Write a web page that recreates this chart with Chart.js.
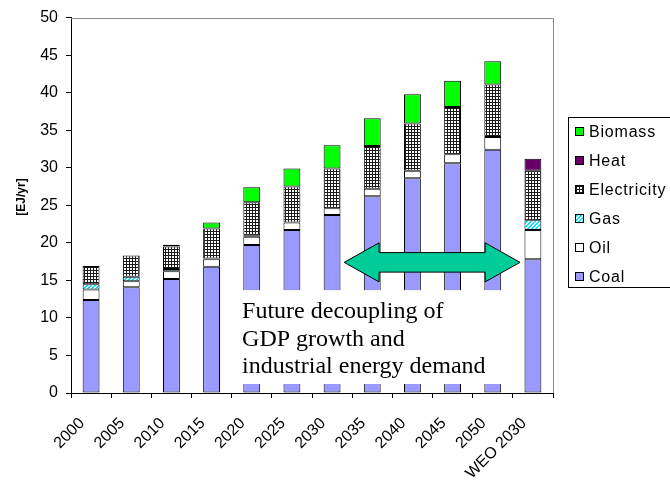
<!DOCTYPE html>
<html>
<head>
<meta charset="utf-8">
<script src="https://cdn.jsdelivr.net/npm/chart.js@4/dist/chart.umd.min.js"></script>
<style>
  html, body { margin: 0; padding: 0; background: #fff; }
  #wrap { width: 670px; height: 489px; }
</style>
</head>
<body>
<div id="wrap"><canvas id="c" width="670" height="489"></canvas></div>
<script>
// Industrial final energy demand by carrier, EJ per year
const categories = ['2000', '2005', '2010', '2015', '2020', '2025', '2030', '2035', '2040', '2045', '2050', 'WEO 2030'];
const coal        = [12.4, 14.1, 15.2, 16.8, 19.7, 21.7, 23.7, 26.2, 28.6, 30.6, 32.4, 17.8];
const oil         = [1.4, 0.8, 1.0, 1.0, 1.1, 1.0, 0.9, 1.0, 1.0, 1.2, 1.7, 3.9];
const gas         = [0.7, 0.6, 0.3, 0.1, 0.2, 0, 0, 0, 0, 0, 0, 1.3];
const electricity = [2.4, 2.8, 3.0, 4.0, 4.4, 4.8, 5.3, 5.7, 6.3, 6.3, 7.0, 6.6];
const heat        = [0, 0, 0.25, 0, 0, 0, 0, 0, 0, 0, 0, 1.6];
const biomass     = [0, 0, 0, 0.8, 2.0, 2.4, 3.1, 3.7, 3.9, 3.5, 3.1, 0];

const yTickMin = 0, yTickMax = 50, yTickStep = 5;
const yTitle = '[EJ/yr]';
const noteLines = ['Future decoupling of', 'GDP growth and', 'industrial energy demand'];

const canvas = document.getElementById('c');
const mainCtx = canvas.getContext('2d');

// fine dark grid for electricity
function makeGridPattern() {
  const t = document.createElement('canvas');
  t.width = 3; t.height = 3;
  const g = t.getContext('2d');
  g.fillStyle = '#ffffff'; g.fillRect(0, 0, 3, 3);
  g.fillStyle = '#1a1a1a';
  g.fillRect(0, 0, 3, 1);
  g.fillRect(0, 0, 1, 3);
  return mainCtx.createPattern(t, 'repeat');
}
// cyan diagonal hatch for gas
function makeHatchPattern() {
  const t = document.createElement('canvas');
  t.width = 4; t.height = 4;
  const g = t.getContext('2d');
  g.fillStyle = '#ffffff'; g.fillRect(0, 0, 4, 4);
  g.fillStyle = '#00e5ff';
  for (let i = 0; i < 4; i++) {
    g.fillRect(i, 3 - i, 1, 1);
    g.fillRect((i + 1) % 4, 3 - i, 1, 1);
  }
  return mainCtx.createPattern(t, 'repeat');
}

const nz = arr => arr.map(v => (v === 0 ? null : v));

function series(label, data, fill) {
  return {
    label, data: nz(data), backgroundColor: fill,
    borderColor: '#000', borderWidth: 1, borderSkipped: false,
    categoryPercentage: 1.0, barPercentage: 0.42
  };
}

const datasets = [
  series('Coal', coal, '#9999ff'),
  series('Oil', oil, '#ffffff'),
  series('Gas', gas, makeHatchPattern()),
  series('Electricity', electricity, makeGridPattern()),
  series('Heat', heat, '#660066'),
  series('Biomass', biomass, '#00ff00')
];

const FONT = '"Liberation Sans", Arial, sans-serif';

// grey frame on the top and right of the plot area
const frame = {
  id: 'frame',
  beforeDatasetsDraw(chart) {
    const { ctx, chartArea: a } = chart;
    ctx.save();
    ctx.strokeStyle = '#8c8c8c';
    ctx.lineWidth = 1;
    ctx.beginPath();
    ctx.moveTo(a.left, Math.round(a.top) + 0.5);
    ctx.lineTo(Math.round(a.right) + 0.5, Math.round(a.top) + 0.5);
    ctx.lineTo(Math.round(a.right) + 0.5, a.bottom);
    ctx.stroke();
    ctx.restore();
  }
};

// arrow and text note drawn over the bars
const note = {
  id: 'note',
  afterDatasetsDraw(chart) {
    const { ctx } = chart;
    const xs = chart.scales.x, ys = chart.scales.y;
    const px = i => xs.getPixelForValue(0) + i * (xs.getPixelForValue(1) - xs.getPixelForValue(0));
    const py = v => ys.getPixelForValue(v);
    ctx.save();
    // white text panel
    const bx0 = px(3.71), bx1 = px(10.6), by0 = py(13.7), by1 = py(1.2);
    ctx.fillStyle = '#ffffff';
    ctx.fillRect(bx0, by0, bx1 - bx0, by1 - by0);
    ctx.fillStyle = '#000';
    ctx.font = '24px "Liberation Serif", "Times New Roman", serif';
    ctx.textAlign = 'left';
    ctx.textBaseline = 'alphabetic';
    const base = [10.0, 6.3, 2.6];
    noteLines.forEach((t, k) => ctx.fillText(t, bx0 + 2, py(base[k])));

    // double-headed arrow
    const xl = px(6.3), xr = px(10.68);
    const hl = px(7.17), hr = px(9.81);
    const yc = py(17.4), yh0 = py(20.0), yh1 = py(14.8), ys0 = py(18.7), ys1 = py(16.1);
    ctx.beginPath();
    ctx.moveTo(xl, yc);
    ctx.lineTo(hl, yh0);
    ctx.lineTo(hl, ys0);
    ctx.lineTo(hr, ys0);
    ctx.lineTo(hr, yh0);
    ctx.lineTo(xr, yc);
    ctx.lineTo(hr, yh1);
    ctx.lineTo(hr, ys1);
    ctx.lineTo(hl, ys1);
    ctx.lineTo(hl, yh1);
    ctx.closePath();
    ctx.fillStyle = '#00cc99';
    ctx.fill();
    ctx.strokeStyle = '#000';
    ctx.lineWidth = 1;
    ctx.stroke();
    ctx.restore();
  }
};

// framed legend on the right, top series first
const boxLegend = {
  id: 'boxLegend',
  afterDraw(chart) {
    const { ctx } = chart;
    ctx.save();
    ctx.strokeStyle = '#000';
    ctx.lineWidth = 1;
    ctx.strokeRect(568.5, 117.5, 120, 170);
    const items = chart.data.datasets.slice().reverse();
    ctx.font = '16px ' + FONT;
    ctx.textBaseline = 'middle';
    ctx.textAlign = 'left';
    if ('letterSpacing' in ctx) ctx.letterSpacing = '0.8px';
    items.forEach((d, i) => {
      const cy = Math.round(132 + i * 28.9);
      ctx.fillStyle = d.backgroundColor;
      ctx.fillRect(575, cy - 4, 8, 8);
      ctx.strokeRect(575.5, cy - 4.5, 8, 8);
      ctx.fillStyle = '#000';
      ctx.fillText(d.label, 589, cy + 1);
    });
    ctx.restore();

    // y axis title
    ctx.save();
    ctx.translate(21.5, 197);
    ctx.rotate(-Math.PI / 2);
    ctx.font = 'bold 12px ' + FONT;
    ctx.fillStyle = '#000';
    ctx.textAlign = 'center';
    ctx.textBaseline = 'middle';
    ctx.fillText(yTitle, 0, 0);
    ctx.restore();
  }
};

Chart.defaults.font.family = FONT;
Chart.defaults.font.size = 16;
Chart.defaults.color = '#000';

new Chart(mainCtx, {
  type: 'bar',
  data: { labels: categories, datasets },
  options: {
    responsive: false,
    animation: false,
    devicePixelRatio: 1,
    layout: { padding: { left: 0, top: 14, right: 117, bottom: 0 } },
    plugins: { legend: { display: false }, tooltip: { enabled: false } },
    scales: {
      x: {
        stacked: true,
        offset: true,
        grid: { display: true, offset: true, drawOnChartArea: false, drawTicks: true, tickLength: 5, color: '#000' },
        border: { display: true, color: '#000', width: 1 },
        ticks: { minRotation: 45, maxRotation: 45, autoSkip: false, padding: 16, labelOffset: -9, font: { size: 16 } },
        afterFit(s) { s.height = 96; }
      },
      y: {
        stacked: true,
        min: yTickMin, max: yTickMax,
        grid: { display: true, drawOnChartArea: false, drawTicks: true, tickLength: 5, color: '#000' },
        border: { display: true, color: '#000', width: 1 },
        ticks: { stepSize: yTickStep, padding: 8, font: { size: 16 } },
        afterFit(s) { s.width = 71; }
      }
    }
  },
  plugins: [frame, note, boxLegend]
});
</script>
</body>
</html>
